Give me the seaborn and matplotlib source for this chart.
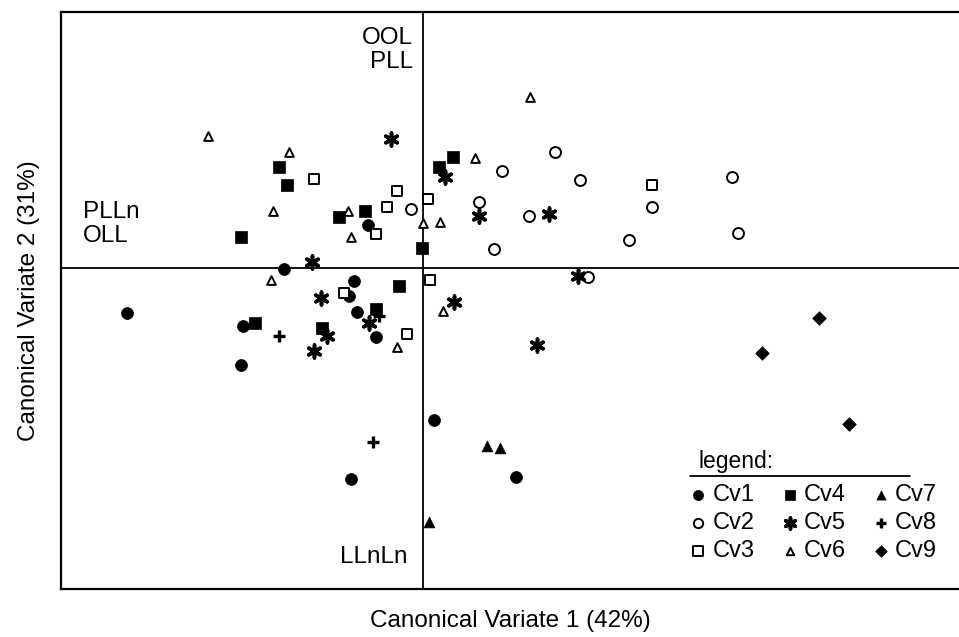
import matplotlib
matplotlib.use("Agg")
import matplotlib.pyplot as plt
import seaborn as sns

# canonical scores per cultivar (CV1, CV2)
cv1_x = [-1.39, -0.55, -2.96, -1.80, -1.82, -0.69, -0.74, -0.66, -0.47, 0.11, 0.93, -0.72]
cv1_y = [-0.01, 0.43, -0.45, -0.58, -0.97, -0.13, -0.28, -0.44, -0.69, -1.52, -2.09, -2.11]
cv2_x = [-0.12, 0.79, 1.32, 1.57, 3.09, 0.56, 1.06, 2.29, 3.15, 2.06, 0.71, 1.65]
cv2_y = [0.59, 0.97, 1.16, 0.88, 0.91, 0.66, 0.52, 0.61, 0.35, 0.28, 0.19, -0.09]
cv3_x = [-1.09, -0.47, -0.36, -0.26, 0.05, 2.29, -0.79, 0.07, -0.16]
cv3_y = [0.89, 0.34, 0.61, 0.77, 0.69, 0.83, -0.25, -0.12, -0.66]
cv4_x = [-1.44, -1.36, -1.82, -0.84, -0.58, -0.01, 0.16, 0.30, -1.68, -0.24, -0.47, -1.01]
cv4_y = [1.01, 0.83, 0.31, 0.51, 0.57, 0.20, 1.01, 1.11, -0.55, -0.18, -0.41, -0.60]
cv5_x = [-0.32, 0.22, -1.11, 0.56, 1.26, 1.55, -1.02, -0.54, -0.96, -1.09, 0.31, 1.14]
cv5_y = [1.29, 0.91, 0.06, 0.52, 0.54, -0.08, -0.30, -0.55, -0.68, -0.83, -0.34, -0.77]
cv6_x = [-2.15, -1.34, -1.50, -0.75, -0.72, 0.00, 0.17, 0.52, 1.07, -1.52, -0.26, 0.20]
cv6_y = [1.32, 1.16, 0.57, 0.57, 0.31, 0.45, 0.46, 1.10, 1.71, -0.12, -0.79, -0.43]
cv7_x = [0.64, 0.77, 0.06]
cv7_y = [-1.78, -1.80, -2.54]
cv8_x = [-1.44, -0.44, -0.50]
cv8_y = [-0.68, -0.48, -1.74]
cv9_x = [3.96, 3.39, 4.26]
cv9_y = [-0.50, -0.85, -1.56]

labels = ["Cv1", "Cv2", "Cv3", "Cv4", "Cv5", "Cv6", "Cv7", "Cv8", "Cv9"]
xs = [cv1_x, cv2_x, cv3_x, cv4_x, cv5_x, cv6_x, cv7_x, cv8_x, cv9_x]
ys = [cv1_y, cv2_y, cv3_y, cv4_y, cv5_y, cv6_y, cv7_y, cv8_y, cv9_y]

# marker, facecolor, size, linewidth
styles = [
    ("o", "black", 74, 0.5),
    ("o", "white", 62, 1.4),
    ("s", "white", 62, 1.4),
    ("s", "black", 74, 0.5),
    ((6, 2, 0), "black", 85, 2.6),
    ("^", "white", 40, 1.4),
    ("^", "black", 60, 0.5),
    ("+", "black", 80, 2.4),
    ("D", "black", 48, 0.5),
]

sns.set_style("white")
plt.rcParams["font.family"] = ["Liberation Sans", "DejaVu Sans"]
plt.rcParams["text.color"] = "black"
plt.rcParams["axes.labelcolor"] = "black"

fig = plt.figure(figsize=(9.59, 6.37), dpi=100)
ax = fig.add_axes([61 / 959, 1 - 589 / 637, 1 - 61 / 959, 577 / 637])

for lab, x, y, (m, fc, s, lw) in zip(labels, xs, ys, styles):
    sns.scatterplot(x=x, y=y, ax=ax, marker=m, s=s, facecolor=fc,
                    edgecolor="black", linewidth=lw, label=lab, zorder=3)

ax.axhline(0, color="black", lw=1.3, zorder=1)
ax.axvline(0, color="black", lw=1.3, zorder=1)

ax.set_xlim(-3.62, 5.36)
ax.set_ylim(-3.21, 2.56)
ax.set_xticks([])
ax.set_yticks([])
for sp in ["left", "top", "bottom"]:
    ax.spines[sp].set_color("black")
    ax.spines[sp].set_linewidth(1.6)
ax.spines["right"].set_visible(False)

ax.set_xlabel("Canonical Variate 1 (42%)", fontsize=17.5, labelpad=15)
ax.set_ylabel("Canonical Variate 2 (31%)", fontsize=17.5, labelpad=15)

ax.text(-0.10, 2.18, "OOL\nPLL", ha="right", va="center", fontsize=17.5, linespacing=1.1)
ax.text(-3.40, 0.44, "PLLn\nOLL", ha="left", va="center", fontsize=17.5, linespacing=1.1)
ax.text(-0.15, -2.89, "LLnLn", ha="right", va="center", fontsize=17.5)

# legend: title text, underline, then 3x3 entries
ax.text((698 - 61) / 898, (589 - 462) / 577, "legend:", transform=ax.transAxes,
        ha="left", va="center", fontsize=16.5)
ax.axhline(-2.08, xmin=(690 - 61) / 898, xmax=(910 - 61) / 898, color="black", lw=1.3)
ax.legend(loc="upper left", bbox_to_anchor=(689 / 959, 1 - 484 / 637),
          bbox_transform=fig.transFigure, ncol=3, frameon=False,
          fontsize=17, markerscale=0.85, handlelength=0.8,
          handletextpad=0.2, columnspacing=1.08, labelspacing=0.26,
          borderpad=0, borderaxespad=0)

fig.savefig("out.png", dpi=100)
